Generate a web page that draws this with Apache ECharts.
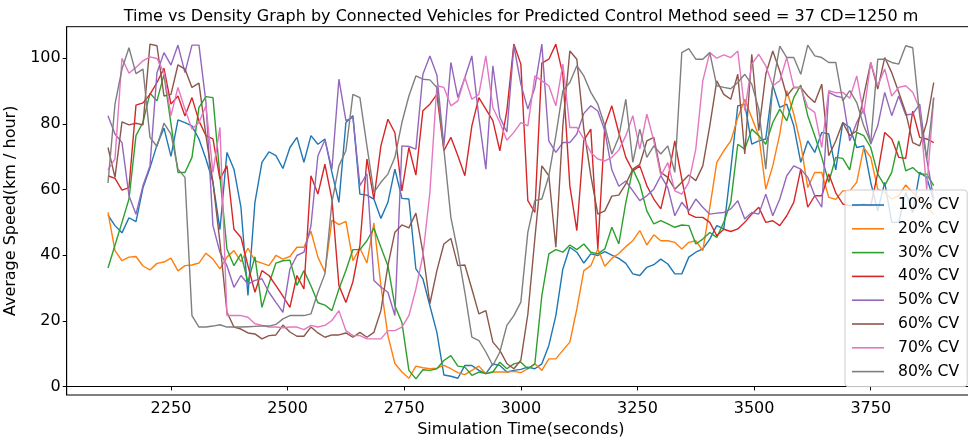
<!DOCTYPE html>
<html>
<head>
<meta charset="utf-8">
<script src="https://cdn.jsdelivr.net/npm/echarts@6/dist/echarts.min.js"></script>
<style>html,body{margin:0;padding:0;background:#fff}#c{width:968px;height:438px}</style>
</head>
<body>
<div id="c"></div>
<script>
const times = [2115,2130,2145,2160,2175,2190,2205,2220,2235,2250,
2265,2280,2295,2310,2325,2340,2355,2370,2385,2400,
2415,2430,2445,2460,2475,2490,2505,2520,2535,2550,
2565,2580,2595,2610,2625,2640,2655,2670,2685,2700,
2715,2730,2745,2760,2775,2790,2805,2820,2835,2850,
2865,2880,2895,2910,2925,2940,2955,2970,2985,3000,
3015,3030,3045,3060,3075,3090,3105,3120,3135,3150,
3165,3180,3195,3210,3225,3240,3255,3270,3285,3300,
3315,3330,3345,3360,3375,3390,3405,3420,3435,3450,
3465,3480,3495,3510,3525,3540,3555,3570,3585,3600,
3615,3630,3645,3660,3675,3690,3705,3720,3735,3750,
3765,3780,3795,3810,3825,3840,3855,3870,3885];

const cv10 = [52.2,49,46.8,51.4,50.2,60.5,66.6,73.6,78.7,70.1,
81.2,80.4,79.4,75.4,69.3,62.2,47.8,71.3,66.2,54.6,
27.7,56.1,68.3,71.5,70.3,66.4,72.8,75.9,68.3,76.4,
73.8,75.4,65.2,56.1,80.4,82.5,58.6,58.3,57.1,51.2,
56.1,66.2,57.3,57.1,35.8,32.8,24.6,16.5,3.5,3.1,
2.5,6.4,6.4,4.9,3.9,6.9,6.4,4.4,4.9,5.2,
5.9,5.4,6.9,12.5,21.6,35.8,42.4,40.9,37.6,40.4,
39.9,41.1,40,39,37.5,34.3,33.8,36.3,37.1,38.8,
37.3,34.3,34.3,39.4,40.9,41.9,44.9,49,48,66.2,
85.5,86,73.8,74.8,75.4,91.8,85,86,79.4,68.3,
74.8,71.3,77.4,76.9,66,80.4,78.9,72.8,73.3,62.2,
53.5,62.2,50,50,59.1,53,65.2,63.7,56.6];

const cv20 = [53,41.4,38.3,39.4,39.6,36.7,35.5,37.5,37.9,39.1,
35.2,36.8,37,37.6,40.6,38.8,35.8,39.4,41.4,38,
42.1,38.3,37.6,36.8,39.9,38.8,39.6,42.4,42.4,47.3,
39.4,34.8,50.7,49.3,50.3,38.3,42.2,37.6,49.8,30.7,
15.5,7,4.4,2.5,6.2,5.7,5.4,5.6,6.4,5.4,
4.2,3.6,4.9,6.2,3.9,4.4,4.4,4.4,4.6,4.2,
5.4,6.9,4.9,8.4,8.4,11,13.5,23.6,35.3,36.8,
41.9,36.6,39,40.5,42.6,44.4,47.5,43.1,46.2,44.4,
44.4,43.9,41.9,43.9,44.4,41.4,54.5,68.3,71.8,74.8,
81.9,87.5,81.9,76.4,60.1,67.2,76.9,90.1,83,73.8,
60.6,65.2,65.2,57.6,57,59.6,59.6,62.2,72.8,69.8,
60.1,59.1,57.1,58.1,61.4,59.1,57.1,54.6,52.5];

const cv30 = [36.1,43,50,57.1,76.4,80.5,89.3,87,95,80,
65.2,65.2,69.8,85,88.3,88,64,41.9,36.8,40.4,
31.7,39.5,24.1,31.2,37.6,38.3,38.5,30.8,35.3,30.7,
25.5,24.8,23.1,29.7,35.3,41.7,41.7,44.4,48.2,42.4,
36.8,24.6,19.5,4.9,2.3,5.1,4.9,5.4,7.9,9.4,
6.2,5.9,3.4,4.4,3.9,4.4,7.4,5.4,6.9,7.4,
5.4,6.9,27.7,40.4,41.7,40.9,43.1,41.7,43.4,40.9,
40.4,41.9,48.5,43.4,56,66.2,61.6,53.5,49.5,50.5,
49.5,48.5,49.2,49,43.4,44.9,46.9,45.4,50,56.1,
73.8,72.3,78.4,76.4,73.8,80.4,84.5,80.9,88,91.8,
82.5,76.4,69.8,62.2,69.8,69.5,66,77.4,76.4,72.8,
64.7,61.2,65.2,74.8,65.7,66.7,64.7,64.7,61.2];

const cv40 = [64.2,63.4,59.8,60.6,85.7,86.4,89,92.6,96.9,86,
88.5,82.4,88,80.9,76.4,75.4,63.2,67.2,47.9,45.4,
36.8,28.7,35.3,33.8,30.7,27.5,24.1,33.8,29.7,64.2,
58.6,67.7,57.1,30.8,25.6,31.9,43,69.3,57.1,73.3,
81.4,77.3,59.6,72.8,64.4,84,86,89,71.8,75.9,
70.3,64.2,79.4,88,84.5,81,71.8,84,104.3,98.2,
56.6,53,98.5,99.7,104.3,95.1,61.1,47.5,75,78.4,
41.9,79.4,85.5,77.3,69.8,65.7,67.2,61.2,57.1,54.1,
63.2,74.8,63.2,52.5,51.5,51.5,50,45.9,47.9,47.2,
48,50,52.5,54.6,50,50.5,49,52,56.1,66.2,
54.6,58.1,58.1,64.7,59,55.6,55.1,55.1,55.6,55,
65,77.4,75.4,69.8,69.5,83.9,75.9,75.4,74.3];

const cv50 = [82.5,76.9,74.3,58.1,52.5,61.2,67.2,95.6,101.7,97.9,
104,95.6,104,104,86.5,49,40.9,36.8,30.2,33.8,
31.2,32.3,32.8,28.7,25.6,22.6,35.8,39.9,40.9,48.9,
70.3,75.1,66.2,93.6,81,82,61.2,64.8,32.3,30.3,
28.7,21.6,73.3,73.1,72.3,95.1,100.7,94.9,73.3,98.7,
88,94.1,100.7,81.9,66.2,97.7,82,77.5,103.8,92.1,
84.5,91.1,104.3,74.8,71.3,74.3,74.3,76.9,83.2,85.5,
83.9,77.9,66,61,62.6,59.6,56.6,58.1,60.1,64.2,
60.6,52,56.1,53.5,57.1,54.6,52.5,52.8,53,54.1,
56.6,51,53,52.5,58.6,52,57.1,64.2,67.2,66.2,
63.7,58.1,54.6,89.6,88.5,88,74.8,80.4,84.5,73.8,
79.4,89.6,82.5,88.5,82.7,83,86,69.3,57.1];

const cv60 = [72.8,63.7,80.6,79.7,80.2,79.7,104.3,103.8,88.5,89,
98,96.7,91.1,92.4,76.4,62.2,43.9,22.6,18.1,17.5,
16.3,16,14.5,15.5,15.7,18.7,16.6,15.3,15.3,18.1,
16.3,15,15.7,15.7,16.3,15,16.5,15,16.5,23.1,
36.8,47,49.2,48.3,52.8,40.9,25.2,35.3,43.4,45.1,
36.8,37,29.7,22.1,23.1,13.5,11,7,5.4,8,
22,45,67.2,64.2,42.4,79.4,102.2,99.7,78.4,64.2,
52.5,53.5,58,58.3,61.7,66.2,67.7,74.8,75.9,65.2,
63.7,60.1,62.2,64.4,62.7,67.2,79.4,93.1,89,87.5,
95.1,70.8,101.2,77.9,95.1,102.2,96.1,88.5,91.1,91.1,
88.5,86.5,92.1,70.3,74.8,80.4,76.4,77.9,88.5,98.7,
90.6,100.2,95.6,89.6,83.5,74.3,73.3,80.4,92.6];

const cv70 = [66,69.3,100,95.4,97.2,99.2,100.4,99.9,95.6,82.5,
91.1,84.5,78.4,80.4,85.5,65.2,78.9,21.6,21.6,21.6,
21.1,19.1,18.6,18.1,18.1,17.9,18.1,18.1,17.3,18.6,
18.1,18.6,20.1,23.1,17,15.5,15.5,14.5,14.5,14.5,
17,17,18.1,21.6,29.7,39.9,59.1,91.6,91.1,85.5,
87,94.1,87.5,89,100.7,85,80.4,75,77.4,80.4,
79.4,94.6,93.1,91.6,85.5,98.2,78.9,78.9,75.4,71.3,
69.3,68.7,69.8,72,76.4,82.5,72.3,83,74.8,64.2,
68.2,59.6,58.6,62.2,72.3,93.1,101.7,100,101,100.2,
102.2,84,98.2,101.2,97.7,91.6,93.1,100.2,91.1,91.1,
85,83.5,72.8,90.1,89.5,89.6,87.8,94.6,83,98.7,
91.6,96.7,88.5,91.1,91.6,89.6,84.5,60,88];

const cv80 = [62,86,96.7,103.2,95.3,96.7,75.9,73.1,80.2,76.9,
66.2,63.7,21.6,18.1,18.1,18.4,18.8,18.1,18.1,18.1,
18.2,18.3,18.4,18.4,18.9,20.6,21.6,21.6,21.6,22.1,
28.7,34.3,56.1,67.2,71.8,89,88,73.3,59.1,62.2,
64.7,69.8,80.4,88.5,94.6,93.6,93.4,91.1,72.3,51.5,
40.9,28.7,15,14,10.5,6.4,10.5,18.6,21.6,25.7,
47,56.6,57.1,64.2,76.4,90.1,92.6,97.7,94.6,89.6,
86,79.4,70.8,76,87.5,68.3,78.4,69.8,73.3,70.8,
73.3,65.2,101.7,102.9,99.7,99.7,101.7,91.6,91.1,90.7,
92.6,95.1,92.1,84.5,66.2,91.6,103.7,100.2,100.2,95.1,
104,100.7,100.2,98.7,98.7,87,90.1,86.5,79.4,74.3,
99.7,99.7,98.7,98.2,103.8,103.2,82.5,69.3,88];

const seriesNames = ['10% CV','20% CV','30% CV','40% CV','50% CV','60% CV','70% CV','80% CV'];
const seriesValues = [cv10, cv20, cv30, cv40, cv50, cv60, cv70, cv80];
const colors = ['#1f77b4','#ff7f0e','#2ca02c','#d62728','#9467bd','#8c564b','#e377c2','#7f7f7f'];
const xTicks = [2250,2500,2750,3000,3250,3500,3750];
const yTicks = [0,20,40,60,80,100];

const FONT = 'DejaVu Sans';
const chart = echarts.init(document.getElementById('c'), null, {renderer:'canvas'});
chart.setOption({
  animation: false,
  backgroundColor: '#fff',
  color: colors,
  title: {
    text: 'Time vs Density Graph by Connected Vehicles for Predicted Control Method seed = 37 CD=1250 m',
    left: 521, top: 7, textAlign: 'center', padding: 0,
    textStyle: {fontFamily: FONT, fontSize: 16, fontWeight: 'normal', color: '#000', lineHeight: 20}
  },
  grid: {left: 66.7, right: -7, top: 26.7, bottom: 43, show: true, borderColor: '#000', borderWidth: 1,
         containLabel: false, outerBoundsMode: 'none'},
  legend: {
    orient: 'vertical', left: 845, top: 190,
    data: seriesNames,
    icon: 'rect', itemWidth: 32, itemHeight: 1.6, itemGap: 5.8,
    padding: [6, 8, 6, 7],
    backgroundColor: 'rgba(255,255,255,0.8)', borderColor: '#cccccc', borderWidth: 1, borderRadius: 3,
    textStyle: {fontFamily: FONT, fontSize: 15.6, color: '#000', lineHeight: 18, padding: [0,0,0,9]}
  },
  xAxis: {
    type: 'value', min: 2026.5, max: 3973.5,
    name: 'Simulation Time(seconds)', nameLocation: 'middle', nameGap: 22,
    nameTextStyle: {fontFamily: FONT, fontSize: 16, color: '#000'},
    axisLine: {show: true, lineStyle: {color: '#000', width: 1}},
    axisTick: {show: true, length: 4, lineStyle: {color: '#000'}, customValues: xTicks},
    axisLabel: {fontFamily: FONT, fontSize: 16, color: '#000', margin: 6, customValues: xTicks,
                formatter: v => String(v)},
    splitLine: {show: false}
  },
  yAxis: {
    type: 'value', min: -2.6, max: 109.6,
    name: 'Average Speed(km / hour)', nameLocation: 'middle', nameGap: 38, nameRotate: 90,
    nameTextStyle: {fontFamily: FONT, fontSize: 16, color: '#000'},
    axisLine: {show: true, lineStyle: {color: '#000', width: 1}},
    axisTick: {show: true, length: 4, lineStyle: {color: '#000'}, customValues: yTicks},
    axisLabel: {fontFamily: FONT, fontSize: 16, color: '#000', margin: 6, customValues: yTicks,
                formatter: v => String(v)},
    splitLine: {show: false}
  },
  series: seriesNames.map((n, k) => ({
    name: n, type: 'line', symbol: 'none', showSymbol: false,
    lineStyle: {width: 1.4, color: colors[k]},
    itemStyle: {color: colors[k]},
    data: times.map((t, i) => [t, seriesValues[k][i]])
  }))
});
</script>
</body>
</html>
